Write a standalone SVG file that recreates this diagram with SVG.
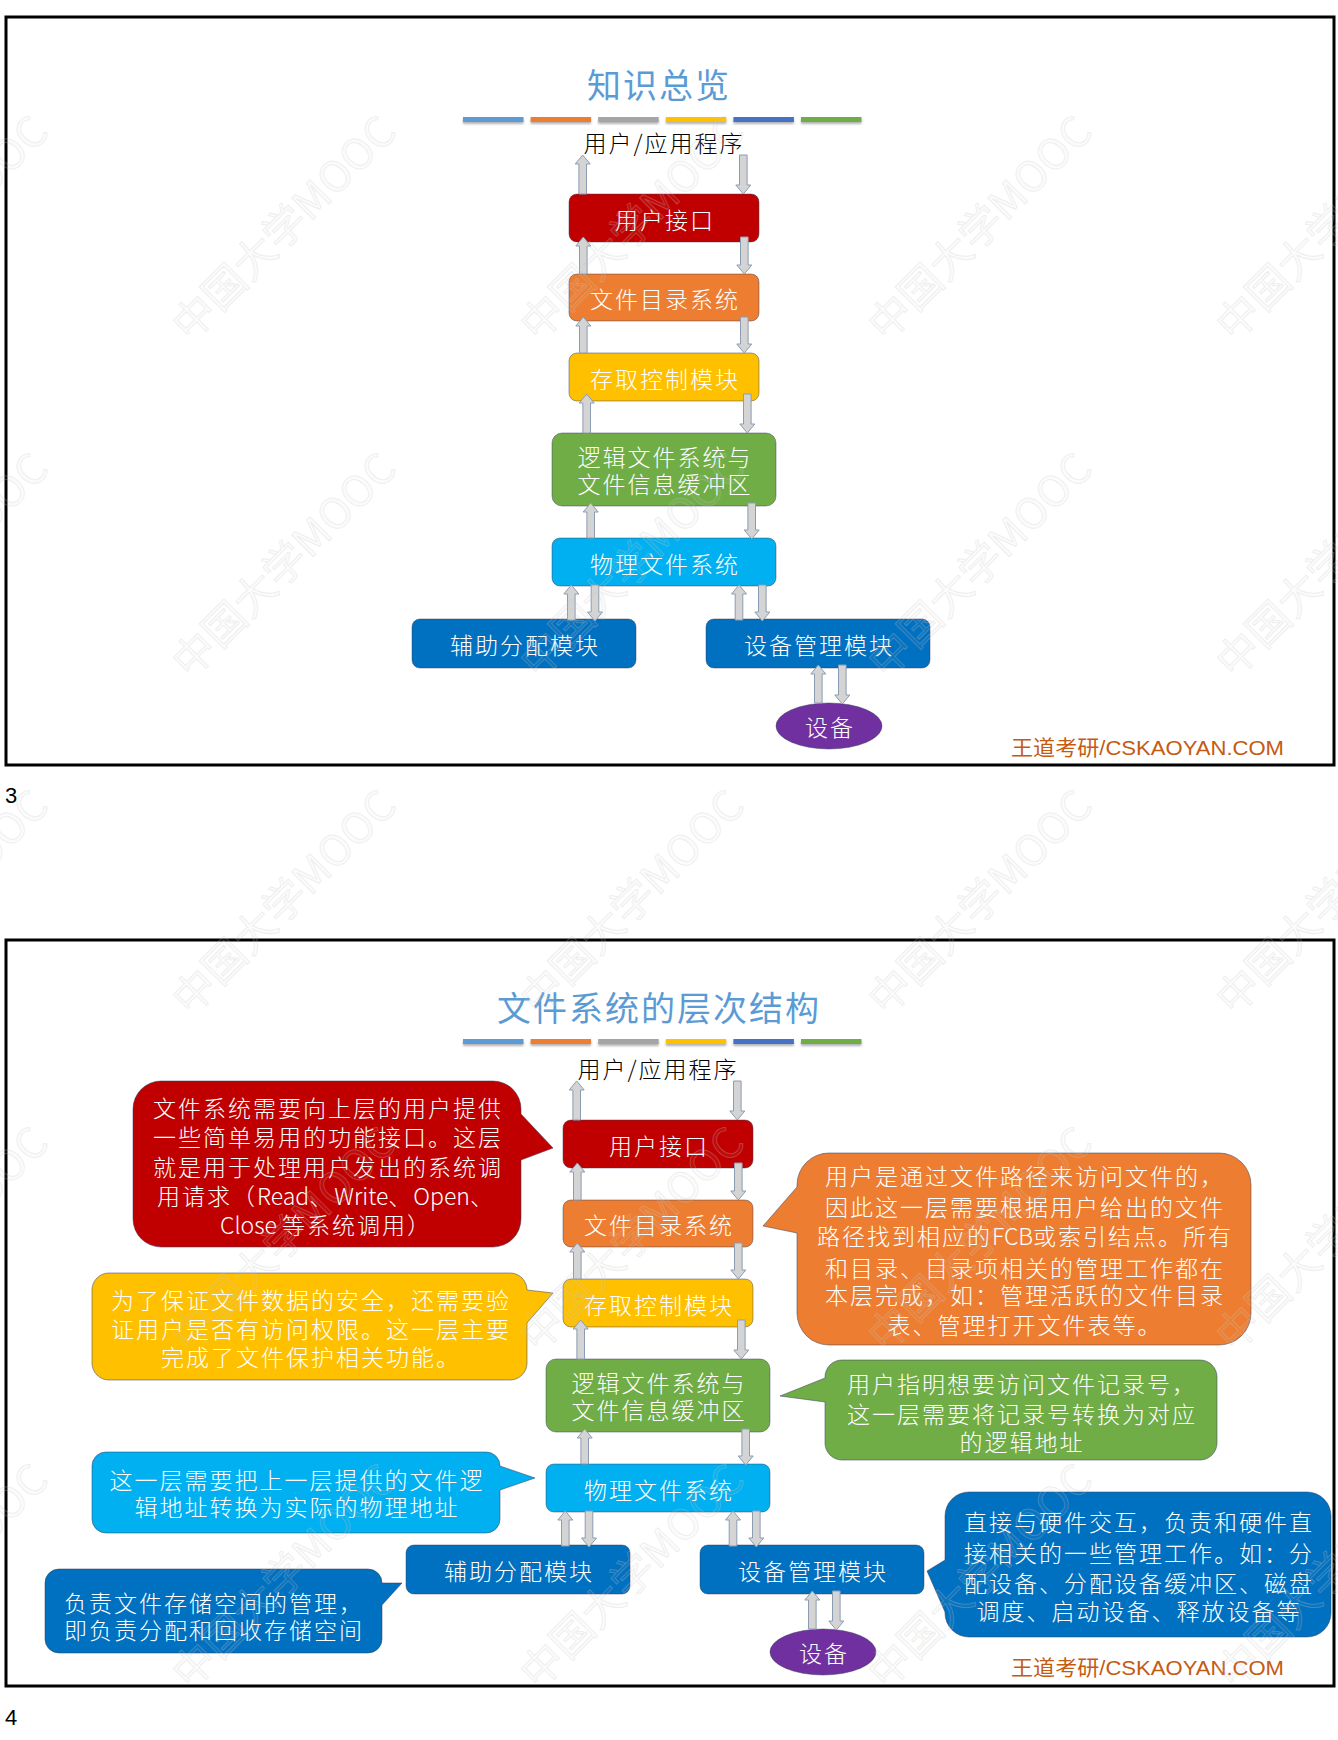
<svg xmlns="http://www.w3.org/2000/svg" width="1338" height="1740" viewBox="0 0 1338 1740">
  <style>
    .frame{fill:none;stroke:#000;stroke-width:3}
    .title{font-family:"Noto Sans CJK SC",sans-serif;font-size:34px;letter-spacing:2px;fill:#5B9BD5;text-anchor:middle;dominant-baseline:central}
    .app{font-family:"Noto Sans CJK SC",sans-serif;font-size:23px;letter-spacing:2px;fill:#000;text-anchor:middle;dominant-baseline:central;font-weight:300}
    .lbl{font-family:"Noto Sans CJK SC",sans-serif;font-size:23px;letter-spacing:2px;fill:#fff;text-anchor:middle;dominant-baseline:central;font-weight:300}
    .lat{letter-spacing:0}
    .box{stroke:rgba(50,60,85,0.45);stroke-width:1}
    .co{stroke:rgba(50,60,90,0.5);stroke-width:1}
    .arr{fill:#D4D4D4;stroke:#8C9CB2;stroke-width:1}
    .brand{font-family:"Liberation Sans","Noto Sans CJK SC",sans-serif;font-size:21px;fill:#C55A11;dominant-baseline:central}
    .pg{font-family:"Liberation Sans",sans-serif;font-size:22px;fill:#000}
    .wm{font-family:"Noto Sans CJK SC",sans-serif;font-size:42px;fill:rgba(205,205,205,0.08);stroke:rgba(200,200,200,0.28);stroke-width:1}
    .red{fill:#C00000}.org{fill:#ED7D31}.yel{fill:#FFC000}.grn{fill:#70AD47}.cyn{fill:#00B0F0}.blu{fill:#0070C0}.pur{fill:#7030A0}
  </style>
  <defs>
    <filter id="barShadow" x="-10%" y="-100%" width="120%" height="400%">
      <feDropShadow dx="0" dy="2" stdDeviation="1" flood-color="#000" flood-opacity="0.3"/>
    </filter>
    <g id="colorBars" filter="url(#barShadow)">
      <rect x="463" y="0" width="60.5" height="5" fill="#5B9BD5"/>
      <rect x="530.6" y="0" width="60.5" height="5" fill="#ED7D31"/>
      <rect x="598.2" y="0" width="60.5" height="5" fill="#A5A5A5"/>
      <rect x="665.8" y="0" width="60.5" height="5" fill="#FFC000"/>
      <rect x="733.4" y="0" width="60.5" height="5" fill="#4472C4"/>
      <rect x="801" y="0" width="60.5" height="5" fill="#70AD47"/>
    </g>
    <text id="wmText" class="wm" transform="rotate(-45)" textLength="295" lengthAdjust="spacingAndGlyphs">中国大学MOOC</text>
  </defs>

  <rect width="1338" height="1740" fill="#fff"/>

  <!-- Slide 3: overview -->
  <g id="slide3">
    <rect class="frame" x="6" y="17" width="1328" height="748"/>
    <text class="title" x="659" y="83">知识总览</text>
    <use href="#colorBars" y="117"/>
    <text class="brand" x="1011" y="747" textLength="273" lengthAdjust="spacingAndGlyphs">王道考研/CSKAOYAN.COM</text>
  </g>
  <text class="pg" x="5" y="803">3</text>

  <g id="stack3">
    <g id="s3-nodes">
      <text id="s3-app" class="app" x="664" y="142">用户/应用程序</text>
      <g id="s3-ui"><rect class="box red" x="569" y="194" width="190" height="48" rx="8"/><text class="lbl" x="665" y="219">用户接口</text></g>
      <g id="s3-dir"><rect class="box org" x="569" y="274" width="190" height="47" rx="8"/><text class="lbl" x="665" y="298">文件目录系统</text></g>
      <g id="s3-acc"><rect class="box yel" x="569" y="353" width="190" height="48" rx="8"/><text class="lbl" x="665" y="378">存取控制模块</text></g>
      <g id="s3-logic"><rect class="box grn" x="552" y="433" width="224" height="73" rx="10"/><text class="lbl" x="665" y="456">逻辑文件系统与</text><text class="lbl" x="665" y="483">文件信息缓冲区</text></g>
      <g id="s3-phys"><rect class="box cyn" x="552" y="538" width="224" height="48" rx="8"/><text class="lbl" x="665" y="563">物理文件系统</text></g>
      <g id="s3-alloc"><rect class="box blu" x="412" y="619" width="224" height="49" rx="8"/><text class="lbl" x="525" y="644">辅助分配模块</text></g>
      <g id="s3-devmgr"><rect class="box blu" x="706" y="619" width="224" height="49" rx="8"/><text class="lbl" x="819" y="644">设备管理模块</text></g>
      <g id="s3-dev"><ellipse class="box pur" cx="829" cy="726" rx="53" ry="23"/><text class="lbl" x="830" y="726">设备</text></g>
    </g>
    <g id="s3-connectors">
      <path class="arr" d="M582.7,155 l7.5,9 h-3.7 v30 h-7.6 v-30 h-3.7 z"/>
      <path class="arr" d="M739.5,155 h7.6 v30 h3.7 l-7.5,9 l-7.5,-9 h3.7 z"/>
      <path class="arr" d="M583.3,237 l7.5,9 h-3.7 v28 h-7.6 v-28 h-3.7 z"/>
      <path class="arr" d="M740.5,237 h7.6 v28 h3.7 l-7.5,9 l-7.5,-9 h3.7 z"/>
      <path class="arr" d="M583.3,317 l7.5,9 h-3.7 v27 h-7.6 v-27 h-3.7 z"/>
      <path class="arr" d="M740.5,317 h7.6 v27 h3.7 l-7.5,9 l-7.5,-9 h3.7 z"/>
      <path class="arr" d="M586.7,394 l7.5,9 h-3.7 v30 h-7.6 v-30 h-3.7 z"/>
      <path class="arr" d="M743.5,394 h7.6 v30 h3.7 l-7.5,9 l-7.5,-9 h3.7 z"/>
      <path class="arr" d="M590.7,503 l7.5,9 h-3.7 v26 h-7.6 v-26 h-3.7 z"/>
      <path class="arr" d="M747.9,503 h7.6 v27 h3.7 l-7.5,9 l-7.5,-9 h3.7 z"/>
      <path class="arr" d="M571.3,585 l7.5,9 h-3.7 v26 h-7.6 v-26 h-3.7 z"/>
      <path class="arr" d="M591.2,585 h7.6 v27 h3.7 l-7.5,9 l-7.5,-9 h3.7 z"/>
      <path class="arr" d="M739,585 l7.5,9 h-3.7 v26 h-7.6 v-26 h-3.7 z"/>
      <path class="arr" d="M758.5,585 h7.6 v27 h3.7 l-7.5,9 l-7.5,-9 h3.7 z"/>
      <path class="arr" d="M818.3,665 l7.5,9 h-3.7 v29 h-7.6 v-29 h-3.7 z"/>
      <path class="arr" d="M838.5,665 h7.6 v30 h3.7 l-7.5,9 l-7.5,-9 h3.7 z"/>
    </g>
  </g>

  <!-- Slide 4: layered structure with notes -->
  <g id="slide4">
    <rect class="frame" x="6" y="940" width="1328" height="746"/>
    <text class="title" x="659" y="1006">文件系统的层次结构</text>
    <use href="#colorBars" y="1039"/>
    <text class="brand" x="1011" y="1667" textLength="273" lengthAdjust="spacingAndGlyphs">王道考研/CSKAOYAN.COM</text>
  </g>
  <text class="pg" x="5" y="1725">4</text>

  <g id="stack4" transform="translate(-6,926)">
    <g id="s4-nodes">
      <text id="s4-app" class="app" x="664" y="142">用户/应用程序</text>
      <g id="s4-ui"><rect class="box red" x="569" y="194" width="190" height="48" rx="8"/><text class="lbl" x="665" y="219">用户接口</text></g>
      <g id="s4-dir"><rect class="box org" x="569" y="274" width="190" height="47" rx="8"/><text class="lbl" x="665" y="298">文件目录系统</text></g>
      <g id="s4-acc"><rect class="box yel" x="569" y="353" width="190" height="48" rx="8"/><text class="lbl" x="665" y="378">存取控制模块</text></g>
      <g id="s4-logic"><rect class="box grn" x="552" y="433" width="224" height="73" rx="10"/><text class="lbl" x="665" y="456">逻辑文件系统与</text><text class="lbl" x="665" y="483">文件信息缓冲区</text></g>
      <g id="s4-phys"><rect class="box cyn" x="552" y="538" width="224" height="48" rx="8"/><text class="lbl" x="665" y="563">物理文件系统</text></g>
      <g id="s4-alloc"><rect class="box blu" x="412" y="619" width="224" height="49" rx="8"/><text class="lbl" x="525" y="644">辅助分配模块</text></g>
      <g id="s4-devmgr"><rect class="box blu" x="706" y="619" width="224" height="49" rx="8"/><text class="lbl" x="819" y="644">设备管理模块</text></g>
      <g id="s4-dev"><ellipse class="box pur" cx="829" cy="726" rx="53" ry="23"/><text class="lbl" x="830" y="726">设备</text></g>
    </g>
    <g id="s4-connectors">
      <path class="arr" d="M582.7,155 l7.5,9 h-3.7 v30 h-7.6 v-30 h-3.7 z"/>
      <path class="arr" d="M739.5,155 h7.6 v30 h3.7 l-7.5,9 l-7.5,-9 h3.7 z"/>
      <path class="arr" d="M583.3,237 l7.5,9 h-3.7 v28 h-7.6 v-28 h-3.7 z"/>
      <path class="arr" d="M740.5,237 h7.6 v28 h3.7 l-7.5,9 l-7.5,-9 h3.7 z"/>
      <path class="arr" d="M583.3,317 l7.5,9 h-3.7 v27 h-7.6 v-27 h-3.7 z"/>
      <path class="arr" d="M740.5,317 h7.6 v27 h3.7 l-7.5,9 l-7.5,-9 h3.7 z"/>
      <path class="arr" d="M586.7,394 l7.5,9 h-3.7 v30 h-7.6 v-30 h-3.7 z"/>
      <path class="arr" d="M743.5,394 h7.6 v30 h3.7 l-7.5,9 l-7.5,-9 h3.7 z"/>
      <path class="arr" d="M590.7,503 l7.5,9 h-3.7 v26 h-7.6 v-26 h-3.7 z"/>
      <path class="arr" d="M747.9,503 h7.6 v27 h3.7 l-7.5,9 l-7.5,-9 h3.7 z"/>
      <path class="arr" d="M571.3,585 l7.5,9 h-3.7 v26 h-7.6 v-26 h-3.7 z"/>
      <path class="arr" d="M591.2,585 h7.6 v27 h3.7 l-7.5,9 l-7.5,-9 h3.7 z"/>
      <path class="arr" d="M739,585 l7.5,9 h-3.7 v26 h-7.6 v-26 h-3.7 z"/>
      <path class="arr" d="M758.5,585 h7.6 v27 h3.7 l-7.5,9 l-7.5,-9 h3.7 z"/>
      <path class="arr" d="M818.3,665 l7.5,9 h-3.7 v29 h-7.6 v-29 h-3.7 z"/>
      <path class="arr" d="M838.5,665 h7.6 v30 h3.7 l-7.5,9 l-7.5,-9 h3.7 z"/>
    </g>
  </g>

  <!-- Speech-bubble notes beside each layer -->
  <g id="notes">
    <g id="note-ui">
      <path class="co red" d="M161,1081 H493 A28,28 0 0 1 521,1109 V1114 L553,1148 L521,1160 V1219 A28,28 0 0 1 493,1247 H161 A28,28 0 0 1 133,1219 V1109 A28,28 0 0 1 161,1081 Z"/>
      <text class="lbl" x="328" y="1107">文件系统需要向上层的用户提供</text>
      <text class="lbl" x="328" y="1136">一些简单易用的功能接口。这层</text>
      <text class="lbl" x="328" y="1165.5">就是用于处理用户发出的系统调</text>
      <text class="lbl" x="326" y="1195">用请求（<tspan class="lat">Read</tspan>、<tspan class="lat">Write</tspan>、<tspan class="lat">Open</tspan>、</text>
      <text class="lbl" x="326" y="1224"><tspan class="lat">Close </tspan>等系统调用）</text>
    </g>
    <g id="note-dir">
      <path class="co org" d="M829,1153 H1219 A32,32 0 0 1 1251,1185 V1313 A32,32 0 0 1 1219,1345 H829 A32,32 0 0 1 797,1313 V1233 L763,1226 L797,1187 V1185 A32,32 0 0 1 829,1153 Z"/>
      <text class="lbl" x="1025" y="1175">用户是通过文件路径来访问文件的，</text>
      <text class="lbl" x="1025" y="1205.5">因此这一层需要根据用户给出的文件</text>
      <text class="lbl" x="1025" y="1235">路径找到相应的<tspan class="lat">FCB</tspan>或索引结点。所有</text>
      <text class="lbl" x="1025" y="1266.5">和目录、目录项相关的管理工作都在</text>
      <text class="lbl" x="1025" y="1294">本层完成，如：管理活跃的文件目录</text>
      <text class="lbl" x="1025" y="1324">表、管理打开文件表等。</text>
    </g>
    <g id="note-acc">
      <path class="co yel" d="M109,1273 H510 A17,17 0 0 1 527,1290 V1290 L553,1293 L527,1323 V1363 A17,17 0 0 1 510,1380 H109 A17,17 0 0 1 92,1363 V1290 A17,17 0 0 1 109,1273 Z"/>
      <text class="lbl" x="311" y="1298.5">为了保证文件数据的安全，还需要验</text>
      <text class="lbl" x="311" y="1328">证用户是否有访问权限。这一层主要</text>
      <text class="lbl" x="311" y="1356">完成了文件保护相关功能。</text>
    </g>
    <g id="note-logic">
      <path class="co grn" d="M842,1360 H1200 A17,17 0 0 1 1217,1377 V1443 A17,17 0 0 1 1200,1460 H842 A17,17 0 0 1 825,1443 V1402 L780,1396 L825,1378 V1377 A17,17 0 0 1 842,1360 Z"/>
      <text class="lbl" x="1022" y="1382.5">用户指明想要访问文件记录号，</text>
      <text class="lbl" x="1022" y="1412.5">这一层需要将记录号转换为对应</text>
      <text class="lbl" x="1022" y="1441">的逻辑地址</text>
    </g>
    <g id="note-phys">
      <path class="co cyn" d="M106,1452 H486 A14,14 0 0 1 500,1466 L535,1478 L500,1490 V1519 A14,14 0 0 1 486,1533 H106 A14,14 0 0 1 92,1519 V1466 A14,14 0 0 1 106,1452 Z"/>
      <text class="lbl" x="297" y="1478.5">这一层需要把上一层提供的文件逻</text>
      <text class="lbl" x="297" y="1506">辑地址转换为实际的物理地址</text>
    </g>
    <g id="note-alloc">
      <path class="co blu" d="M59,1569 H368 A14,14 0 0 1 382,1583 L402,1583 L382,1605 V1639 A14,14 0 0 1 368,1653 H59 A14,14 0 0 1 45,1639 V1583 A14,14 0 0 1 59,1569 Z"/>
      <text class="lbl" x="214" y="1602">负责文件存储空间的管理，</text>
      <text class="lbl" x="214" y="1629">即负责分配和回收存储空间</text>
    </g>
    <g id="note-devmgr">
      <path class="co blu" d="M969,1492 H1307 A24,24 0 0 1 1331,1516 V1613 A24,24 0 0 1 1307,1637 H969 A24,24 0 0 1 945,1613 V1612 L927,1571 L945,1560 V1516 A24,24 0 0 1 969,1492 Z"/>
      <text class="lbl" x="1139" y="1521">直接与硬件交互，负责和硬件直</text>
      <text class="lbl" x="1139" y="1551.5">接相关的一些管理工作。如：分</text>
      <text class="lbl" x="1139" y="1581.5">配设备、分配设备缓冲区、磁盘</text>
      <text class="lbl" x="1139" y="1610">调度、启动设备、释放设备等</text>
    </g>
  </g>

  <!-- Diagonal page watermark, tiled -->
  <g id="watermark">
    <use href="#wmText" x="-158" y="343"/>
    <use href="#wmText" x="190" y="343"/>
    <use href="#wmText" x="538" y="343"/>
    <use href="#wmText" x="886" y="343"/>
    <use href="#wmText" x="1234" y="343"/>
    <use href="#wmText" x="-158" y="680"/>
    <use href="#wmText" x="190" y="680"/>
    <use href="#wmText" x="538" y="680"/>
    <use href="#wmText" x="886" y="680"/>
    <use href="#wmText" x="1234" y="680"/>
    <use href="#wmText" x="-158" y="1017"/>
    <use href="#wmText" x="190" y="1017"/>
    <use href="#wmText" x="538" y="1017"/>
    <use href="#wmText" x="886" y="1017"/>
    <use href="#wmText" x="1234" y="1017"/>
    <use href="#wmText" x="-158" y="1354"/>
    <use href="#wmText" x="190" y="1354"/>
    <use href="#wmText" x="538" y="1354"/>
    <use href="#wmText" x="886" y="1354"/>
    <use href="#wmText" x="1234" y="1354"/>
    <use href="#wmText" x="-158" y="1691"/>
    <use href="#wmText" x="190" y="1691"/>
    <use href="#wmText" x="538" y="1691"/>
    <use href="#wmText" x="886" y="1691"/>
    <use href="#wmText" x="1234" y="1691"/>
  </g>
</svg>
